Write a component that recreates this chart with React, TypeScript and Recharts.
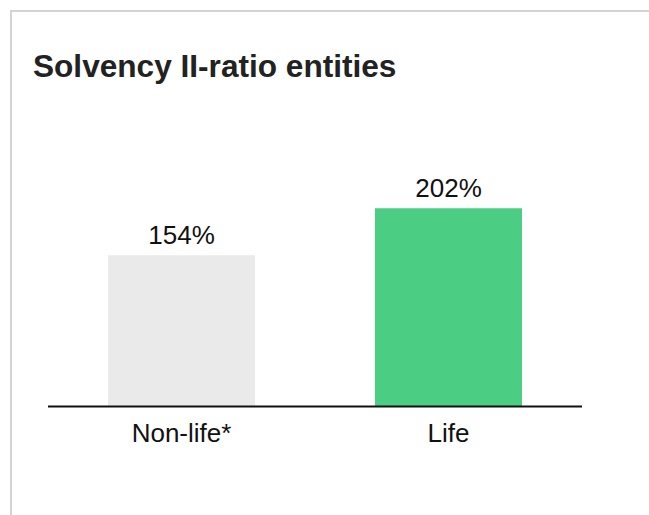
import React from 'react';
import { BarChart, Bar, XAxis, YAxis, Cell, LabelList } from 'recharts';

const categories = ['Non-life*', 'Life'];
const ratios = [154, 202];
const barColors = ['#EAEAEA', '#4CCD84'];

const data = categories.map((name, i) => ({ name, ratio: ratios[i] }));

const FONT = '"Liberation Sans", Arial, Helvetica, sans-serif';

const App: React.FC = () => {
    return (
        <div
            style={{
                position: 'absolute',
                left: 0,
                top: 0,
                width: 649,
                height: 515,
                background: '#fff',
                fontFamily: FONT,
                overflow: 'hidden'
            }}
        >
            {/* card frame: top + left border only */}
            <div
                style={{
                    position: 'absolute',
                    left: 10,
                    top: 10,
                    right: 0,
                    bottom: 0,
                    borderTop: '2px solid #d4d4d4',
                    borderLeft: '2px solid #d4d4d4'
                }}
            />
            <div
                style={{
                    position: 'absolute',
                    left: 33,
                    top: 50,
                    fontSize: 31.6,
                    lineHeight: '32px',
                    fontWeight: 700,
                    color: '#222',
                    whiteSpace: 'nowrap'
                }}
            >
                Solvency II-ratio entities
            </div>
            <div style={{ position: 'absolute', left: 0, top: 0 }}>
                <BarChart
                    width={649}
                    height={515}
                    data={data}
                    margin={{ top: 161, right: 67, bottom: 68.5, left: 48 }}
                >
                    <XAxis
                        dataKey="name"
                        height={40}
                        tickLine={false}
                        tickMargin={11}
                        axisLine={{ stroke: '#111', strokeWidth: 2 }}
                        tick={{ fill: '#111', fontSize: 26, fontFamily: FONT }}
                    />
                    <YAxis hide width={0} domain={[0, 250]} />
                    <Bar dataKey="ratio" barSize={147} isAnimationActive={false}>
                        {data.map((d, i) => (
                            <Cell key={d.name} fill={barColors[i]} />
                        ))}
                        <LabelList
                            dataKey="ratio"
                            position="top"
                            offset={11}
                            formatter={(v: any) => `${v}%`}
                            style={{ fill: '#111', fontSize: 26, fontFamily: FONT }}
                        />
                    </Bar>
                </BarChart>
            </div>
        </div>
    );
};

export default App;
